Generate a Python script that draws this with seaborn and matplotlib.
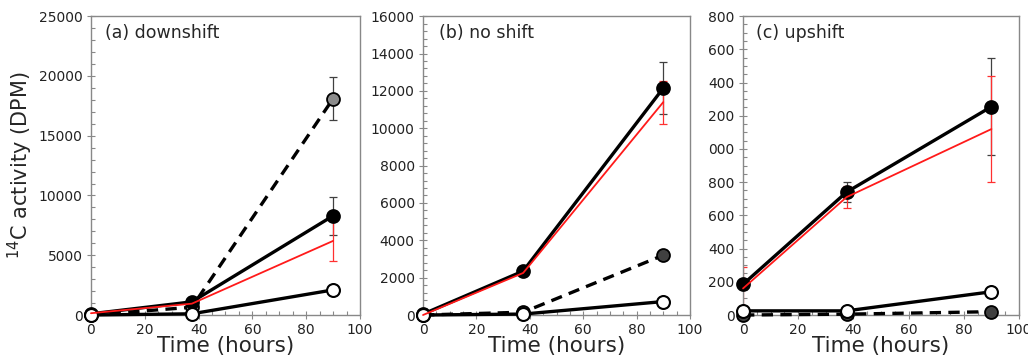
import matplotlib
matplotlib.use("Agg")
import matplotlib.pyplot as plt
import seaborn as sns
import pandas as pd
from matplotlib.ticker import MultipleLocator, FuncFormatter

sns.set_style("ticks")
plt.rcParams['font.family'] = ['DejaVu Sans']

time = [0, 37.5, 90]

# panel (a) downshift
a_black = [100, 1100, 8300]
a_black_err = [0, 0, 1600]
a_red = [150, 950, 6200]
a_red_err = [0, 0, 1700]
a_grey = [0, 650, 18100]
a_grey_err = [0, 0, 1800]
a_white = [0, 100, 2100]
a_white_err = [0, 0, 0]

# panel (b) no shift
b_black = [50, 2350, 12150]
b_black_err = [0, 0, 1370]
b_red = [0, 2250, 11400]
b_red_err = [0, 0, 1150]
b_grey = [0, 150, 3200]
b_grey_err = [0, 0, 0]
b_white = [0, 50, 720]
b_white_err = [0, 0, 0]

# panel (c) upshift
c_black = [185, 740, 1255]
c_black_err = [0, 60, 290]
c_red = [160, 710, 1120]
c_red_err = [130, 65, 320]
c_grey = [0, 5, 20]
c_grey_err = [0, 0, 0]
c_white = [25, 25, 140]
c_white_err = [0, 0, 30]

titles = ["(a) downshift", "(b) no shift", "(c) upshift"]
ylims = [25000, 16000, 1800]
ymajor = [5000, 2000, 200]
yminor = [1000, 400, 50]
grey_fill = ["#8c8c8c", "#404040", "#404040"]

panels = [
    (a_black, a_black_err, a_red, a_red_err, a_grey, a_grey_err, a_white, a_white_err),
    (b_black, b_black_err, b_red, b_red_err, b_grey, b_grey_err, b_white, b_white_err),
    (c_black, c_black_err, c_red, c_red_err, c_grey, c_grey_err, c_white, c_white_err),
]

fig = plt.figure(figsize=(10.28, 3.64), dpi=100)
pos = [(0.0885, 0.1346, 0.2617, 0.821),
       (0.4115, 0.1346, 0.2597, 0.821),
       (0.7228, 0.1346, 0.2685, 0.821)]

spine_c = "#888888"
for i, (p, (bk, bke, rd, rde, gr, gre, wh, whe)) in enumerate(zip(pos, panels)):
    ax = fig.add_axes(p)
    eb = dict(fmt='none', elinewidth=0.9, capsize=3, capthick=0.9, zorder=2)
    ax.errorbar(time, gr, yerr=gre, ecolor='#404040', **eb)
    ax.errorbar(time, bk, yerr=bke, ecolor='#404040', **eb)
    ax.errorbar(time, rd, yerr=rde, ecolor='#ff3030', **eb)
    ax.errorbar(time, wh, yerr=whe, ecolor='#404040', **eb)

    df_g = pd.DataFrame({"t": time, "v": gr})
    df_b = pd.DataFrame({"t": time, "v": bk})
    df_r = pd.DataFrame({"t": time, "v": rd})
    df_w = pd.DataFrame({"t": time, "v": wh})

    sns.lineplot(data=df_g, x="t", y="v", ax=ax, color="black", linewidth=2.4,
                 linestyle=(0, (3.4, 2.2)), marker="o", markersize=9.3,
                 markerfacecolor=grey_fill[i], markeredgecolor="black", markeredgewidth=1.3,
                 zorder=3, clip_on=False)
    sns.lineplot(data=df_b, x="t", y="v", ax=ax, color="black", linewidth=2.4,
                 marker="o", markersize=9.3, markerfacecolor="black",
                 markeredgecolor="black", markeredgewidth=1.3, zorder=4, clip_on=False)
    sns.lineplot(data=df_w, x="t", y="v", ax=ax, color="black", linewidth=2.4,
                 marker="o", markersize=9.3, markerfacecolor="white",
                 markeredgecolor="black", markeredgewidth=1.5, zorder=5, clip_on=False)
    sns.lineplot(data=df_r, x="t", y="v", ax=ax, color="#ff1a1a", linewidth=1.3, zorder=6,
                 clip_on=False)

    ax.set_xlim(0, 100)
    ax.set_ylim(0, ylims[i])
    ax.xaxis.set_major_locator(MultipleLocator(20))
    ax.xaxis.set_minor_locator(MultipleLocator(5))
    ax.yaxis.set_major_locator(MultipleLocator(ymajor[i]))
    ax.yaxis.set_minor_locator(MultipleLocator(yminor[i]))
    if i == 2:
        ax.yaxis.set_major_formatter(FuncFormatter(lambda v, _: ("%d" % v)[-3:]))
    ax.tick_params(which="major", direction="inout", length=6, width=0.8, color=spine_c,
                   labelsize=10, labelcolor="#222222", pad=3)
    ax.tick_params(which="minor", direction="in", length=3, width=0.8, color=spine_c)
    for s in ax.spines.values():
        s.set_color(spine_c)
        s.set_linewidth(1.0)
    ax.set_xlabel("Time (hours)", fontsize=15.5, labelpad=-1)
    ax.set_ylabel("")
    xoff = [0.052, 0.06, 0.047][i]
    ax.text(xoff, 0.975, titles[i], transform=ax.transAxes, va="top", ha="left", fontsize=12.5)

fig.text(0.02, 0.545, r"$^{14}$C activity (DPM)", rotation=90, va="center", ha="center", fontsize=15)

fig.savefig("out.png", dpi=100)
